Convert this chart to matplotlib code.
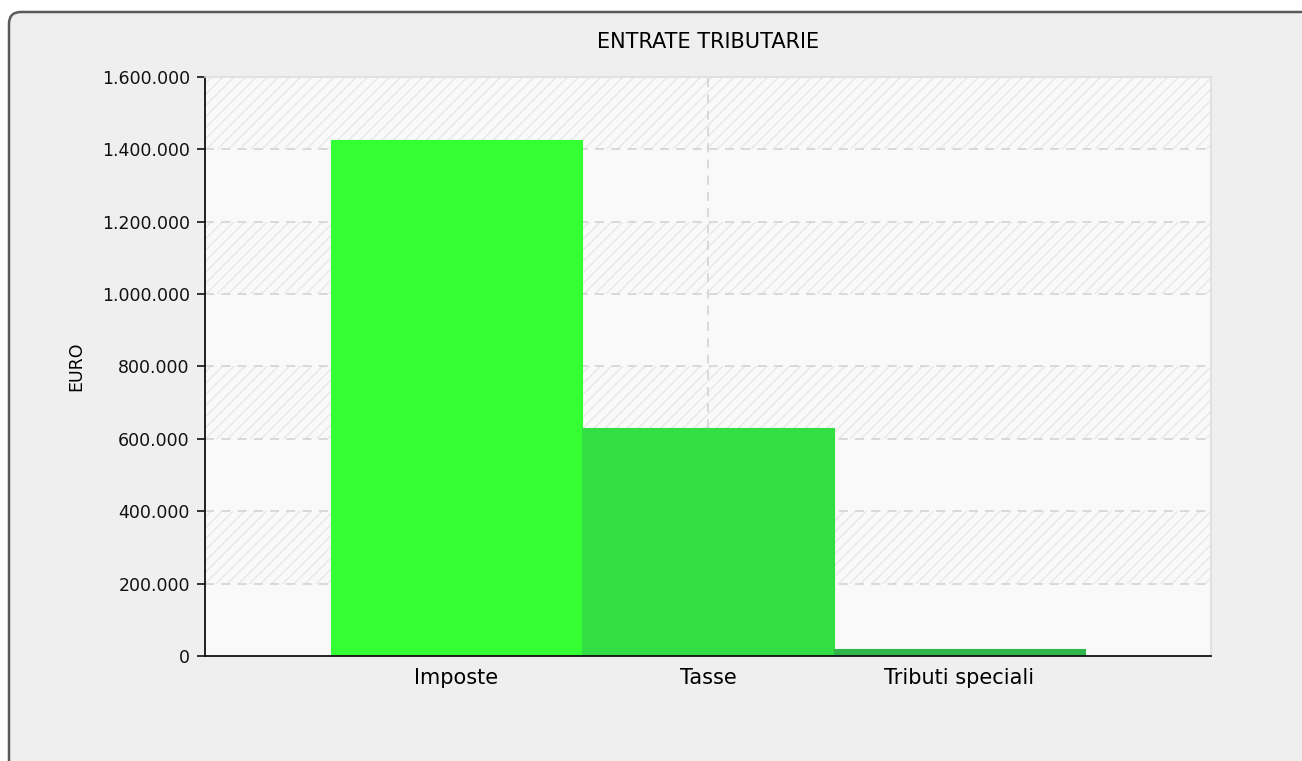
import matplotlib
matplotlib.use("Agg")
import matplotlib.pyplot as plt
import matplotlib.transforms as mtransforms
from matplotlib.patches import FancyBboxPatch
from matplotlib.ticker import FuncFormatter

categories = ["Imposte", "Tasse", "Tributi speciali"]
values = [1426000, 630000, 18000]
bar_colors = ["#33ff33", "#33dd44", "#2fb548"]
y_ticks = [0, 200000, 400000, 600000, 800000, 1000000, 1200000, 1400000, 1600000]

plt.rcParams["hatch.linewidth"] = 1.0

fig = plt.figure(figsize=(13.02, 7.61), dpi=100, facecolor="white")

# rounded panel behind the chart
panel = FancyBboxPatch((9, -30), 1400, 761 - 12 + 30,
                       boxstyle="round,pad=0,rounding_size=12",
                       transform=mtransforms.IdentityTransform(),
                       facecolor="#efefef", edgecolor="#5a5a5a", linewidth=1.8)
fig.add_artist(panel)
panel.set_zorder(-10)

ax = fig.add_axes([0.1575, 0.138, 0.7726, 0.7608])
ax.set_facecolor("#f9f9f9")

# alternating hatched bands
for i in range(len(y_ticks) - 1):
    if i % 2 == 1:
        ax.axhspan(y_ticks[i], y_ticks[i + 1], facecolor="none",
                   edgecolor="#e8e8e8", hatch="///", linewidth=0, zorder=0)

for t in y_ticks[1:-1]:
    ax.axhline(t, color="#d6d6d6", linestyle=(0, (5, 4)), linewidth=1.3, zorder=1)
ax.axvline(1, color="#d6d6d6", linestyle=(0, (5, 4)), linewidth=1.3, zorder=1)

x = list(range(len(categories)))
ax.bar(x, values, width=1.0, color=bar_colors,
       edgecolor=bar_colors, linewidth=0.8, zorder=2)

ax.set_xlim(-1, 3)
ax.set_ylim(0, 1600000)
ax.set_yticks(y_ticks)
ax.yaxis.set_major_formatter(FuncFormatter(lambda v, p: f"{int(v):,}".replace(",", ".")))
ax.set_xticks(x)
ax.set_xticklabels(categories, fontsize=15)
ax.tick_params(axis="x", length=0, pad=9)
ax.tick_params(axis="y", length=6, width=1.2, labelsize=12.5, pad=5, colors="#111111")

for s in ["top", "right"]:
    ax.spines[s].set_color("#dddddd")
    ax.spines[s].set_linewidth(1.2)
for s in ["left", "bottom"]:
    ax.spines[s].set_color("#111111")
    ax.spines[s].set_linewidth(1.3)

ax.set_ylabel("EURO", fontsize=12.5, labelpad=12)
fig.text(0.5438, 1 - 42 / 761, "ENTRATE TRIBUTARIE", ha="center", va="center", fontsize=15)

fig.savefig("out.png", dpi=100, facecolor=fig.get_facecolor())
